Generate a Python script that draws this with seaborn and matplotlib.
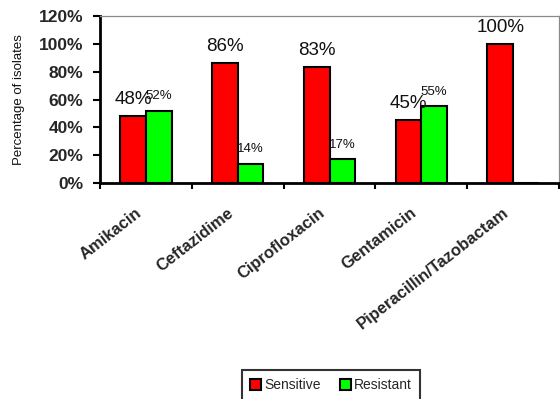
import matplotlib
matplotlib.use('Agg')
import matplotlib.pyplot as plt
import matplotlib.transforms as mtransforms
from matplotlib.patches import Patch
from matplotlib.ticker import FuncFormatter, FixedLocator
import seaborn as sns
import pandas as pd

antibiotics = ['Amikacin', 'Ceftazidime', 'Ciprofloxacin', 'Gentamicin', 'Piperacillin/Tazobactam']
sensitive = [48, 86, 83, 45, 100]
resistant = [52, 14, 17, 55, 0]
series = ['Sensitive', 'Resistant']
colors = {'Sensitive': '#FF0000', 'Resistant': '#00FF00'}
yticks = [0, 20, 40, 60, 80, 100, 120]

df = pd.DataFrame({
    'Antibiotic': antibiotics * 2,
    'Result': ['Sensitive'] * len(antibiotics) + ['Resistant'] * len(antibiotics),
    'Percent': sensitive + resistant,
})

sns.set_theme(style='white')
plt.rcParams['font.family'] = ['Liberation Sans', 'DejaVu Sans']

fig = plt.figure(figsize=(5.6, 3.99), dpi=100)
ax = fig.add_axes([100 / 560, 1 - 183 / 399, 459 / 560, 167 / 399])

sns.barplot(data=df, x='Antibiotic', y='Percent', hue='Result', order=antibiotics,
            hue_order=series, palette=colors, edgecolor='black', linewidth=1.5,
            width=0.56, saturation=1, errorbar=None, ax=ax)

if ax.get_legend() is not None:
    ax.get_legend().remove()

for container, level, size in zip(ax.containers, series, [13.5, 9.5]):
    vals = df[df['Result'] == level]['Percent'].tolist()
    labels = [f'{v}%' if v > 0 else '' for v in vals]
    ax.bar_label(container, labels=labels, padding=6, fontsize=size, color='#111111')

ax.set_xlim(-0.5, len(antibiotics) - 0.5)
ax.set_ylim(0, 120)
ax.set_yticks(yticks)
ax.yaxis.set_major_formatter(FuncFormatter(lambda v, p: f'{int(v)}%'))

for s in ['left', 'bottom']:
    ax.spines[s].set_color('black')
    ax.spines[s].set_linewidth(2)
for s in ['top', 'right']:
    ax.spines[s].set_color('#8a8a8a')
    ax.spines[s].set_linewidth(0.9)

ax.tick_params(axis='y', which='major', direction='out', length=5, width=1.5,
               color='black', pad=7, labelsize=12.5, left=True)
for lab in ax.get_yticklabels():
    lab.set_fontweight('bold')

ax.xaxis.set_minor_locator(FixedLocator([i - 0.5 for i in range(len(antibiotics) + 1)]))
ax.tick_params(axis='x', which='minor', direction='out', length=4, width=1.5,
               color='black', bottom=True)
ax.tick_params(axis='x', which='major', length=0, pad=16, labelsize=12)
offset = mtransforms.ScaledTranslation(-11 / 100, 0, fig.dpi_scale_trans)
for lab in ax.get_xticklabels():
    lab.set_rotation(38)
    lab.set_ha('right')
    lab.set_va('top')
    lab.set_rotation_mode('anchor')
    lab.set_fontweight('bold')
    lab.set_transform(lab.get_transform() + offset)

ax.set_xlabel('')
ax.set_ylabel('Percentage of isolates', fontsize=9.5, color='#111111')
ax.yaxis.set_label_coords(-0.163, 0.5)

handles = [Patch(facecolor=colors[s], edgecolor='black', linewidth=1.5) for s in series]
leg = fig.legend(handles, series, loc='upper center', bbox_to_anchor=(331 / 560, 1 - 370 / 399),
                 ncol=2, frameon=True, fancybox=False, edgecolor='black', fontsize=10,
                 handlelength=0.8, handleheight=0.8, handletextpad=0.2, columnspacing=1.4,
                 borderpad=0.6, borderaxespad=0)
leg.get_frame().set_linewidth(1.5)

fig.savefig('out.png', dpi=100)
